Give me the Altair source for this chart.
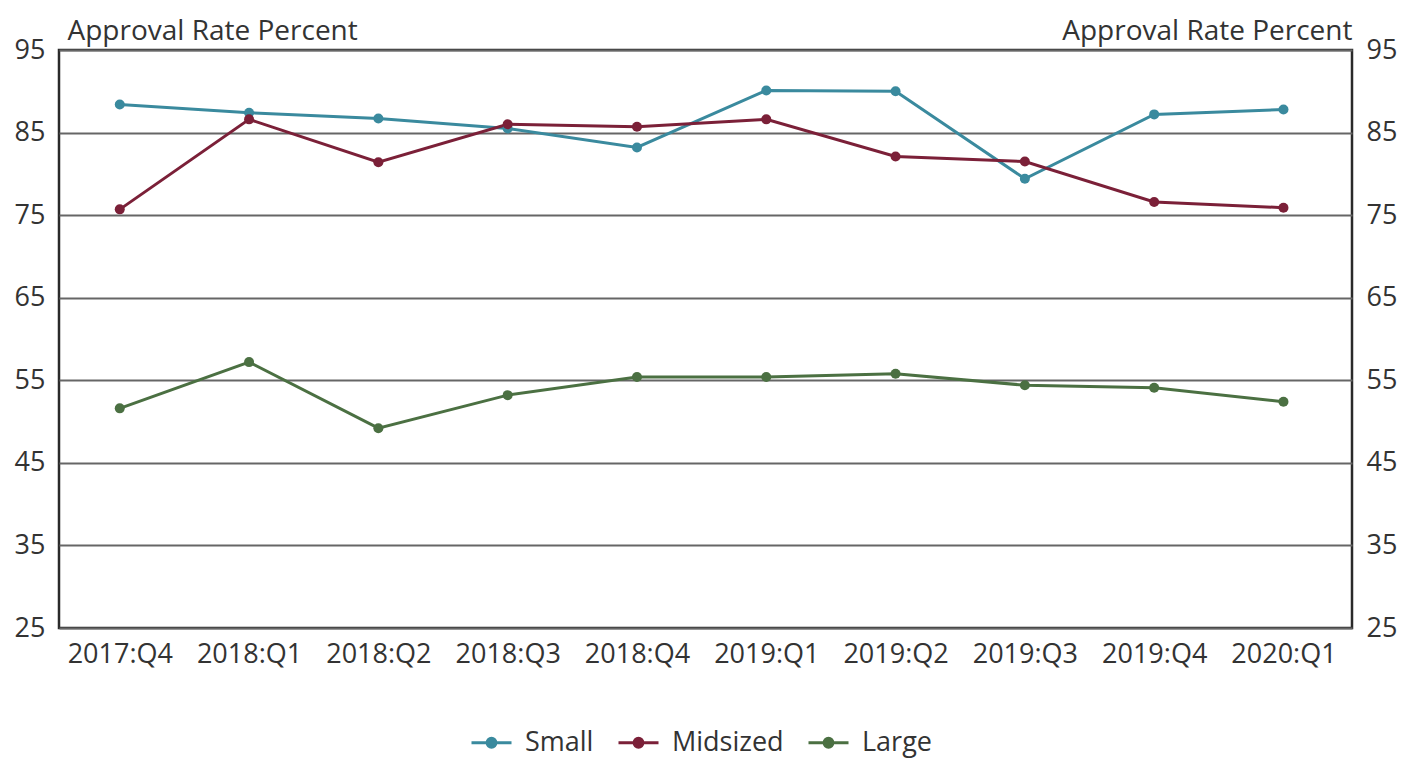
import altair as alt
import pandas as pd

quarters = ["2017:Q4", "2018:Q1", "2018:Q2", "2018:Q3", "2018:Q4",
            "2019:Q1", "2019:Q2", "2019:Q3", "2019:Q4", "2020:Q1"]
small = [88.4, 87.4, 86.7, 85.5, 83.2, 90.1, 90.0, 79.4, 87.2, 87.8]
midsized = [75.7, 86.6, 81.4, 86.0, 85.7, 86.6, 82.1, 81.5, 76.6, 75.9]
large = [51.6, 57.2, 49.2, 53.2, 55.4, 55.4, 55.8, 54.4, 54.1, 52.4]
series_names = ["Small", "Midsized", "Large"]
series_colors = ["#3a8a9e", "#7b2038", "#4b7042"]
y_ticks = [25, 35, 45, 55, 65, 75, 85, 95]

rows = []
for name, vals in zip(series_names, [small, midsized, large]):
    for q, v in zip(quarters, vals):
        rows.append({"quarter": q, "value": v, "series": name})
df = pd.DataFrame(rows)

FONT = "Open Sans"
TXT = "#333333"
FS = 27
TFS = 28

x_enc = alt.X("quarter:N", sort=quarters,
              scale=alt.Scale(type="point", padding=0.5, align=0.47),
              axis=alt.Axis(title=None, labelAngle=0, ticks=False, domain=False,
                            labelPadding=13, labelFontSize=FS, labelFont=FONT,
                            labelColor=TXT))

color_enc = alt.Color("series:N", sort=series_names,
                      scale=alt.Scale(domain=series_names, range=series_colors),
                      legend=alt.Legend(title=None, orient="none", direction="horizontal",
                                        legendX=411, legendY=671, padding=0,
                                        symbolType="M-1,0H1M0.22,0A0.22,0.22,0,1,1,-0.22,0A0.22,0.22,0,1,1,0.22,0Z",
                                        symbolSize=1600, symbolStrokeWidth=3,
                                        labelFontSize=FS, labelFont=FONT, labelColor=TXT,
                                        labelOffset=12, columnPadding=18))

y_scale = alt.Scale(domain=[25, 95], nice=False, zero=False)

left_axis = alt.Axis(values=y_ticks, title="Approval Rate Percent", titleAngle=0,
                     titleX=8, titleY=-11, titleAlign="left", titleBaseline="alphabetic",
                     titleFont=FONT, titleFontSize=TFS, titleFontWeight="normal",
                     titleColor=TXT, labelFont=FONT, labelFontSize=FS, labelColor=TXT,
                     labelPadding=14, ticks=False, domain=False,
                     grid=True, gridColor="#666666", gridWidth=2)
right_axis = alt.Axis(values=y_ticks, orient="right", title="Approval Rate Percent",
                      titleAngle=0, titleX=0, titleY=-11, titleAlign="right",
                      titleBaseline="alphabetic", titleFont=FONT, titleFontSize=TFS,
                      titleFontWeight="normal", titleColor=TXT, labelFont=FONT,
                      labelFontSize=FS, labelColor=TXT, labelPadding=14,
                      ticks=False, domain=False, grid=False)

lines = alt.Chart(df).mark_line(strokeWidth=3).encode(
    x=x_enc,
    y=alt.Y("value:Q", scale=y_scale, axis=left_axis),
    color=color_enc,
)
points = alt.Chart(df).mark_point(filled=True, size=100, opacity=1).encode(
    x=x_enc,
    y=alt.Y("value:Q", scale=y_scale, axis=left_axis),
    color=color_enc,
)
right = alt.Chart(df).mark_line(opacity=0).encode(
    x=x_enc,
    y=alt.Y("value:Q", scale=y_scale, axis=right_axis),
    detail="series:N",
)

chart = alt.layer(lines + points, right).resolve_scale(y="independent").properties(
    width=1293, height=578,
    autosize=alt.AutoSizeParams(type="none"),
    padding={"left": 51, "top": 42, "right": 61, "bottom": 134},
).configure(background="white").configure_view(stroke="#2a2a2a", strokeWidth=2.5)

chart.save("out.html", embed_options={"renderer": "svg", "actions": False})
